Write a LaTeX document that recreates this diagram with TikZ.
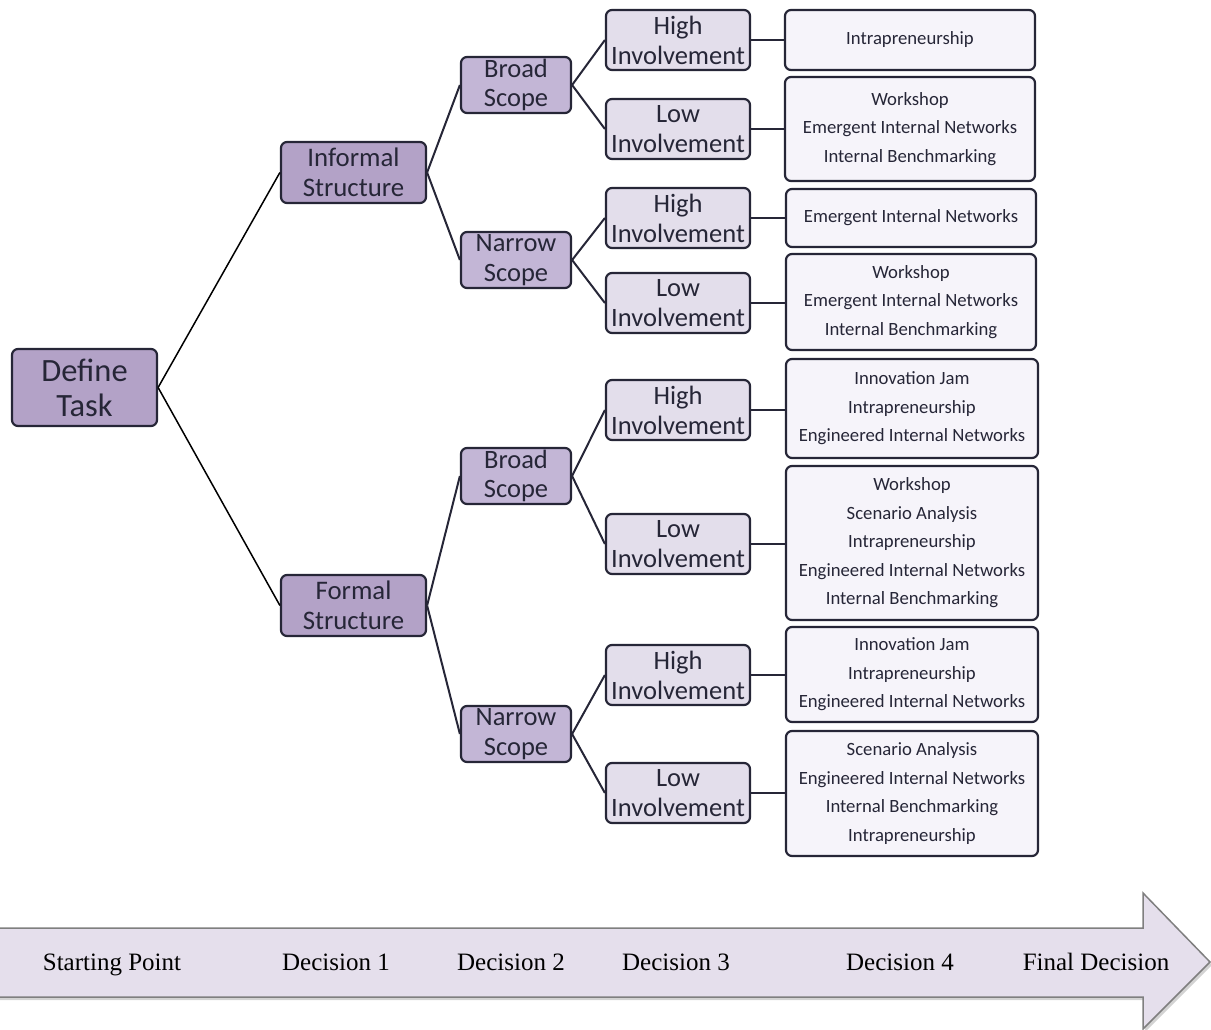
\documentclass[tikz,border=0pt]{standalone}
\usepackage{fontspec}
\setmainfont{Carlito}
\newfontfamily\arrowfont{Liberation Serif}
\usetikzlibrary{shadows}
\definecolor{bordc}{HTML}{262637}
\definecolor{purA}{HTML}{B3A2C7}
\definecolor{purB}{HTML}{C3B6D6}
\definecolor{purC}{HTML}{E3DEEB}
\definecolor{leafc}{HTML}{F6F4FA}
\definecolor{arrfill}{HTML}{E5DFEC}
\definecolor{arrdraw}{HTML}{7F7F7F}
\tikzset{
  base/.style={draw=bordc, line width=2.2pt, rounded corners=6pt, align=center, text=bordc, inner sep=0pt},
  lvA/.style={base, fill=purA},
  lvB/.style={base, fill=purB, minimum width=110pt, minimum height=56pt, font=\fontsize{26.5}{29.5}\selectfont},
  lvC/.style={base, fill=purC, minimum width=144pt, minimum height=60pt, font=\fontsize{26.5}{30}\selectfont},
  leaf/.style={base, fill=leafc, minimum width=250pt, font=\fontsize{18.7}{28.5}\selectfont},
  edge/.style={line width=2pt, draw=bordc},
  edgeA/.style={line width=1.5pt, draw=black},
  lab/.style={font=\arrowfont\fontsize{25}{28}\selectfont, text=black, anchor=base}
}
\begin{document}
\begin{tikzpicture}[x=1pt,y=-1pt]
\useasboundingbox (0,0) rectangle (1211,1030);
% arrow
\path[fill=arrfill, draw=arrdraw, line width=1.5pt, drop shadow={shadow xshift=2pt, shadow yshift=-3pt, opacity=0.35}]
  (-2,928) -- (1143,928) -- (1143,893) -- (1210,962) -- (1143,1029) -- (1143,997) -- (-2,997) -- cycle;
\node[lab] (s0) at (112,970) {Starting Point};
\node[lab] (s1) at (336,970) {Decision 1};
\node[lab] (s2) at (511,970) {Decision 2};
\node[lab] (s3) at (676,970) {Decision 3};
\node[lab] (s4) at (900,970) {Decision 4};
\node[lab] (s5) at (1096,970) {Final Decision};

% level 0
\node[lvA, minimum width=145pt, minimum height=77pt, font=\fontsize{32.5}{35}\selectfont] (dt) at (84.5,387.5) {Define\\Task};
% level 1
\node[lvA, minimum width=145pt, minimum height=61pt, font=\fontsize{26.8}{29.5}\selectfont] (inf) at (353.5,172.5) {Informal\\Structure};
\node[lvA, minimum width=145pt, minimum height=61pt, font=\fontsize{26.8}{29.5}\selectfont] (for) at (353.5,605.5) {Formal\\Structure};
% level 2
\node[lvB] (b1) at (516,85) {Broad\\Scope};
\node[lvB] (n1) at (516,260) {Narrow\\Scope};
\node[lvB] (b2) at (516,476) {Broad\\Scope};
\node[lvB] (n2) at (516,734) {Narrow\\Scope};
% level 3
\node[lvC] (h1) at (678,40) {High\\Involvement};
\node[lvC] (l1) at (678,129) {Low\\Involvement};
\node[lvC] (h2) at (678,218) {High\\Involvement};
\node[lvC] (l2) at (678,303) {Low\\Involvement};
\node[lvC] (h3) at (678,410) {High\\Involvement};
\node[lvC] (l3) at (678,544) {Low\\Involvement};
\node[lvC] (h4) at (678,675) {High\\Involvement};
\node[lvC] (l4) at (678,793) {Low\\Involvement};
% leaves
\node[leaf, minimum height=60pt] (f1) at (910,40) {Intrapreneurship};
\node[leaf, minimum height=104pt] (f2) at (910,129) {Workshop\\Emergent Internal Networks\\Internal Benchmarking};
\node[leaf, minimum height=58pt, minimum width=250pt] (f3) at (911,218) {Emergent Internal Networks};
\node[leaf, minimum height=96pt] (f4) at (911,302) {Workshop\\Emergent Internal Networks\\Internal Benchmarking};
\node[leaf, minimum height=99pt, minimum width=252pt] (f5) at (912,408.5) {Innovation Jam\\Intrapreneurship\\Engineered Internal Networks};
\node[leaf, minimum height=154pt, minimum width=252pt] (f6) at (912,543) {Workshop\\Scenario Analysis\\Intrapreneurship\\Engineered Internal Networks\\Internal Benchmarking};
\node[leaf, minimum height=95pt, minimum width=252pt] (f7) at (912,674.5) {Innovation Jam\\Intrapreneurship\\Engineered Internal Networks};
\node[leaf, minimum height=125pt, minimum width=252pt] (f8) at (912,793.5) {Scenario Analysis\\Engineered Internal Networks\\Internal Benchmarking\\Intrapreneurship};

% connectors
\draw[edgeA] (dt.east) -- (inf.west);
\draw[edgeA] (dt.east) -- (for.west);
\draw[edge] (inf.east) -- (b1.west);
\draw[edge] (inf.east) -- (n1.west);
\draw[edge] (for.east) -- (b2.west);
\draw[edge] (for.east) -- (n2.west);
\draw[edge] (b1.east) -- (h1.west);
\draw[edge] (b1.east) -- (l1.west);
\draw[edge] (n1.east) -- (h2.west);
\draw[edge] (n1.east) -- (l2.west);
\draw[edge] (b2.east) -- (h3.west);
\draw[edge] (b2.east) -- (l3.west);
\draw[edge] (n2.east) -- (h4.west);
\draw[edge] (n2.east) -- (l4.west);
\draw[edge] (h1.east) -- (h1.east -| f1.west);
\draw[edge] (l1.east) -- (l1.east -| f2.west);
\draw[edge] (h2.east) -- (h2.east -| f3.west);
\draw[edge] (l2.east) -- (l2.east -| f4.west);
\draw[edge] (h3.east) -- (h3.east -| f5.west);
\draw[edge] (l3.east) -- (l3.east -| f6.west);
\draw[edge] (h4.east) -- (h4.east -| f7.west);
\draw[edge] (l4.east) -- (l4.east -| f8.west);
\end{tikzpicture}
\end{document}
